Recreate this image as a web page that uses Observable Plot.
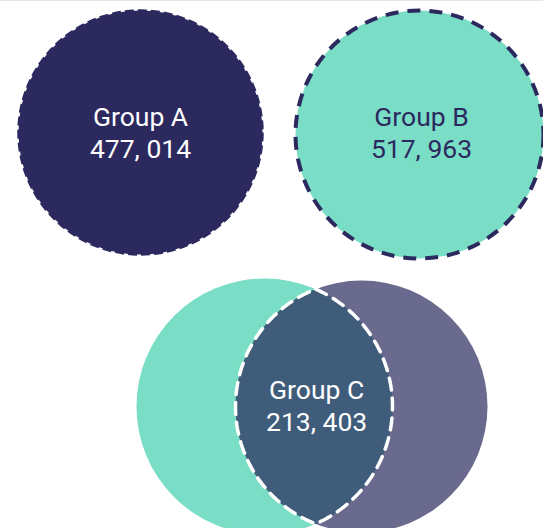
<!DOCTYPE html>
<html>
<head>
<meta charset="utf-8">
<script src="https://cdn.jsdelivr.net/npm/d3@7"></script>
<script src="https://cdn.jsdelivr.net/npm/@observablehq/plot@0.6"></script>
<style>
  html, body { margin: 0; padding: 0; background: #ffffff; }
  #chart { width: 543px; height: 528px; border-top: 1px solid #dfe6ed; box-sizing: border-box; overflow: hidden; }
  svg { display: block; }
</style>
</head>
<body>
<div id="chart"></div>
<script>
// ---- data ----
const groups = ["Group A", "Group B", "Group C"];
const counts = [477014, 517963, 213403];

// ---- layout (pixel space) ----
const W = 543, H = 527;
const singleX = [140, 419];
const singleY = [131, 133];
const singleR = [122, 124];
const vennX = [264, 361];
const vennY = 405;
const vennR = [128, 126];

// ---- style ----
const navy = "#2c295f";
const teal = "#79dec5";
const purple = "#6a698e";
const lensColor = "#3f5c7a";

const fmt = v => d3.format(",")(v).replace(/,/g, ", ");

const singles = [
  {name: groups[0], value: counts[0], x: singleX[0], y: singleY[0], r: singleR[0], fill: navy, stroke: navy},
  {name: groups[1], value: counts[1], x: singleX[1], y: singleY[1], r: singleR[1], fill: teal, stroke: navy}
];
const vennCircles = [
  {x: vennX[0], y: vennY, r: vennR[0], fill: teal},
  {x: vennX[1], y: vennY, r: vennR[1], fill: purple}
];

// lens geometry (intersection of the two venn circles)
const d = vennX[1] - vennX[0];
const r1 = vennR[0], r2 = vennR[1];
const a = (d * d + r1 * r1 - r2 * r2) / (2 * d);
const h = Math.sqrt(r1 * r1 - a * a);
const lens = [];
const n = 80;
{
  const t0 = Math.atan2(-h, a), t1 = Math.atan2(h, a);
  for (let i = 0; i <= n; i++) {
    const t = t0 + (t1 - t0) * i / n;
    lens.push({x: vennX[0] + r1 * Math.cos(t), y: vennY + r1 * Math.sin(t)});
  }
  let s0 = Math.atan2(h, a - d), s1 = Math.atan2(-h, a - d);
  if (s1 < s0) s1 += 2 * Math.PI;
  for (let i = 0; i <= n; i++) {
    const t = s0 + (s1 - s0) * i / n;
    lens.push({x: vennX[1] + r2 * Math.cos(t), y: vennY + r2 * Math.sin(t)});
  }
  lens.push(lens[0]);
}

const labels = [
  {x: singleX[0], y: singleY[0] - 1, text: `${groups[0]}\n${fmt(counts[0])}`, fill: "white"},
  {x: singleX[1] + 2, y: singleY[1] - 3, text: `${groups[1]}\n${fmt(counts[1])}`, fill: navy},
  {x: vennX[0] + a + 1, y: vennY - 2, text: `${groups[2]}\n${fmt(counts[2])}`, fill: "white"}
];

const chart = Plot.plot({
  width: W,
  height: H,
  margin: 0,
  x: {domain: [0, W], range: [0, W], axis: null},
  y: {domain: [0, H], range: [0, H], axis: null},
  r: {type: "identity"},
  style: {background: "white", overflow: "visible"},
  marks: [
    Plot.dot(singles.slice(0, 1), {x: "x", y: "y", r: "r", fill: "fill", stroke: "stroke", strokeWidth: 2.5, strokeDasharray: "9,4"}),
    Plot.dot(singles.slice(1, 2), {x: "x", y: "y", r: "r", fill: "fill", stroke: "stroke", strokeWidth: 4, strokeDasharray: "13,9"}),
    Plot.dot(vennCircles, {x: "x", y: "y", r: "r", fill: "fill", stroke: null}),
    Plot.line(lens, {x: "x", y: "y", fill: lensColor, stroke: "white", strokeWidth: 3.5, strokeDasharray: "12,8", curve: "linear"}),
    Plot.text(labels, {x: "x", y: "y", text: "text", fill: "fill", fontSize: 26.5, lineHeight: 1.22, fontFamily: "Roboto", textAnchor: "middle"})
  ]
});
document.getElementById("chart").appendChild(chart);
</script>
</body>
</html>
